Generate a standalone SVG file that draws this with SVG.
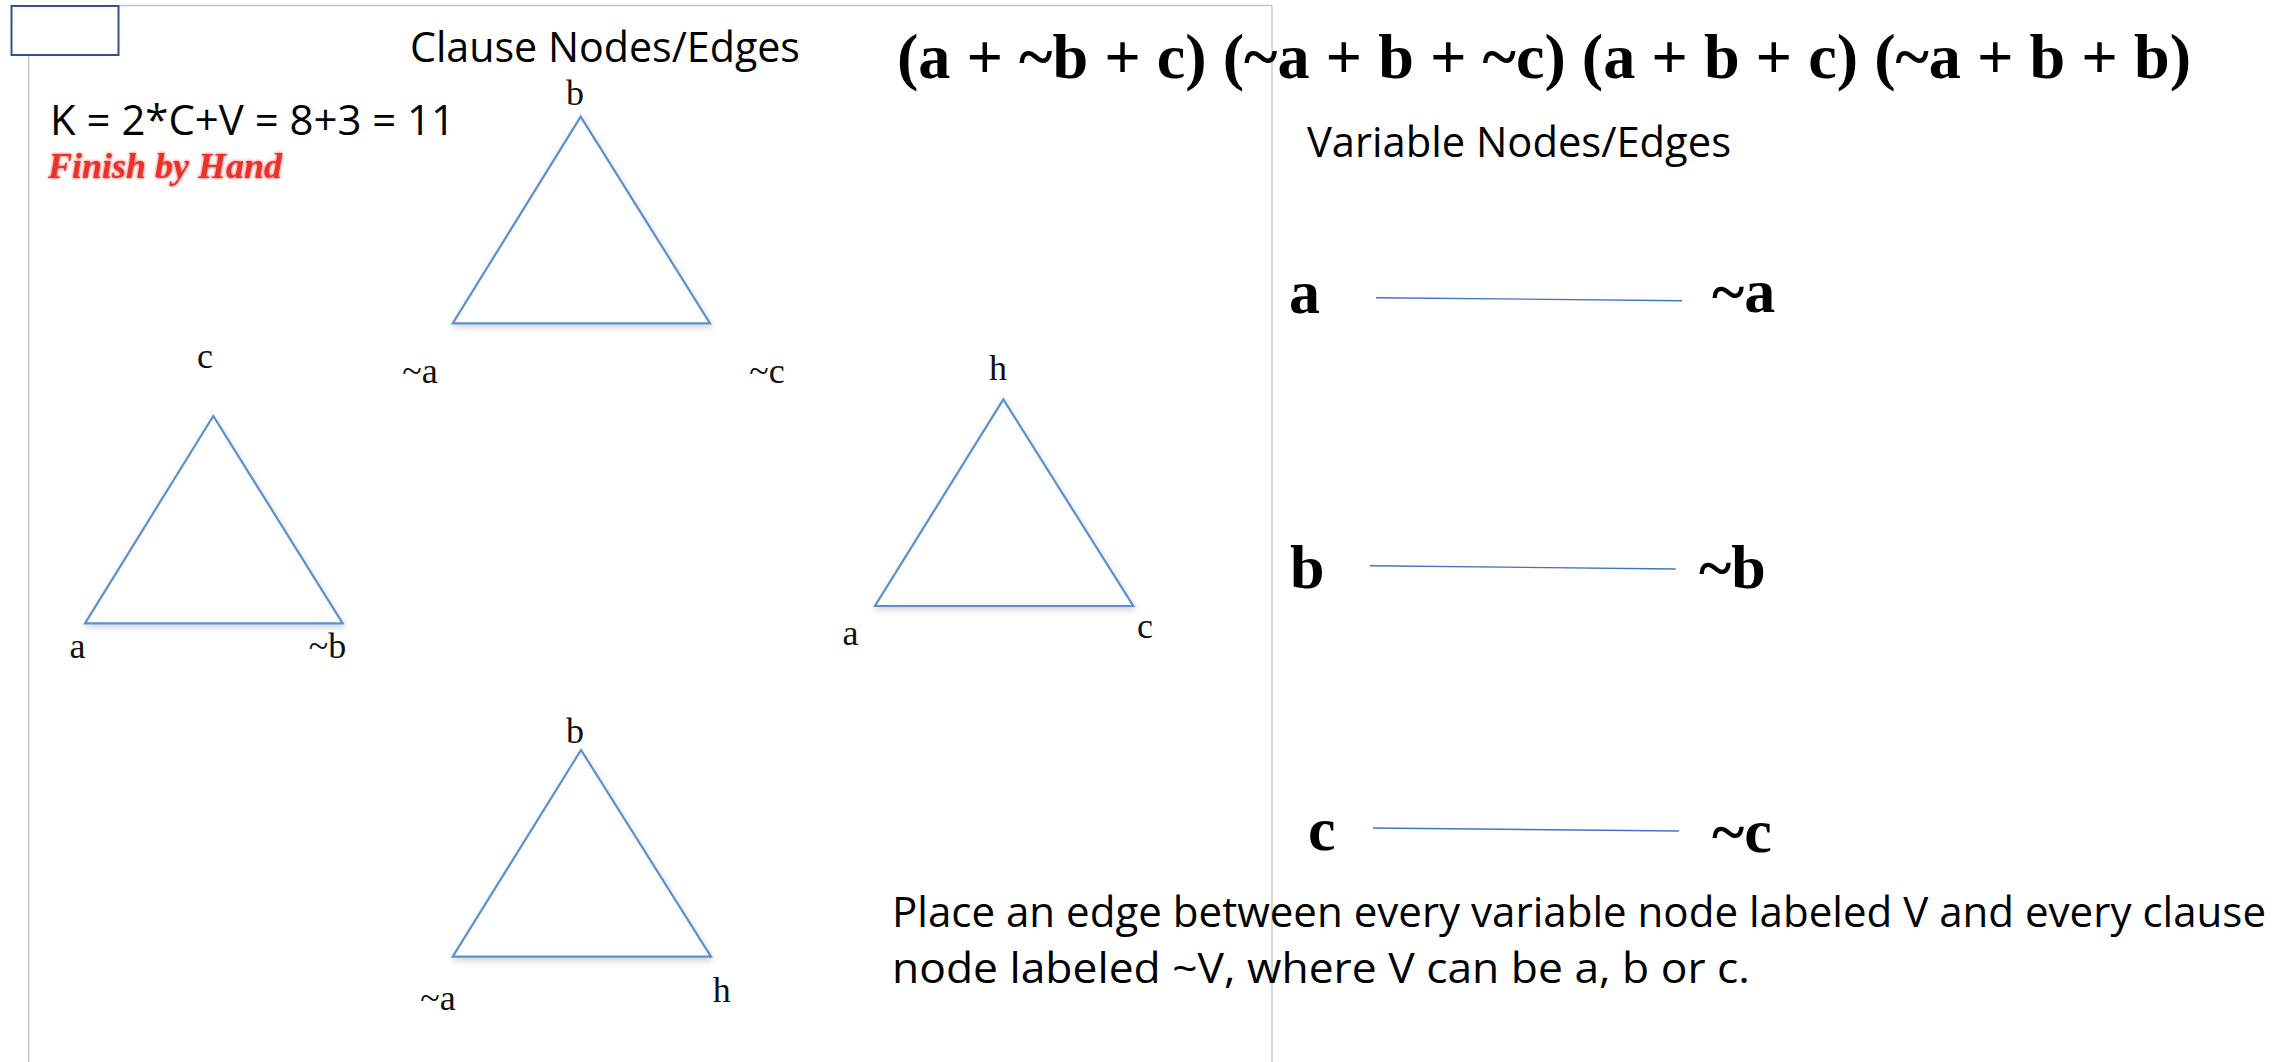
<svg xmlns="http://www.w3.org/2000/svg" width="2295" height="1062" viewBox="0 0 2295 1062">
  <defs>
    <filter id="shadow" x="-10%" y="-10%" width="120%" height="130%">
      <feDropShadow dx="1" dy="3" stdDeviation="3" flood-color="#000" flood-opacity="0.18"/>
    </filter>
    <filter id="glow" x="-5%" y="-30%" width="110%" height="160%">
      <feGaussianBlur in="SourceGraphic" stdDeviation="1.5" result="b"/>
      <feMerge><feMergeNode in="b"/><feMergeNode in="SourceGraphic"/></feMerge>
    </filter>
  </defs>
  <style>
    .frame { stroke: #c4c4c4; stroke-width: 1.3; fill: none; }
    .tri { fill: #ffffff; stroke: #5b8fd2; stroke-width: 2.2; stroke-linejoin: miter; }
    .tl { font-family: "Liberation Serif", "DejaVu Serif", serif; font-size: 36px; fill: #111111; text-anchor: middle; }
    .cal { font-family: "Open Sans", "Liberation Sans", sans-serif; font-size: 42px; fill: #000; }
    .big { font-family: "Liberation Serif", "Times New Roman", serif; font-weight: bold; font-size: 64px; fill: #000; }
    .var { font-family: "Liberation Serif", "Times New Roman", serif; font-weight: bold; font-size: 62px; fill: #000; }
    .edge { stroke: #4472c4; stroke-width: 1.4; fill: none; }
  </style>
  <rect width="2295" height="1062" fill="#ffffff"/>

  <g id="frame">
    <line class="frame" x1="119" y1="5.5" x2="1272" y2="5.5"/>
    <line class="frame" x1="28.7" y1="55" x2="28.7" y2="1062"/>
    <line class="frame" x1="1272" y1="5.5" x2="1272" y2="1062"/>
    <rect x="11.5" y="6" width="107" height="49" fill="#ffffff" stroke="#2f528f" stroke-width="2"/>
  </g>

  <g id="titles">
    <text class="cal" x="410" y="62" textLength="390" lengthAdjust="spacingAndGlyphs">Clause Nodes/Edges</text>
    <text class="cal" x="50" y="135" font-size="41" textLength="405" lengthAdjust="spacingAndGlyphs">K = 2*C+V = 8+3 = 11</text>
    <text x="48" y="178" font-family="Liberation Serif, Times New Roman, serif" font-weight="bold" font-style="italic" font-size="35" fill="#e8322b" filter="url(#glow)" textLength="234" lengthAdjust="spacingAndGlyphs">Finish by Hand</text>
    <text class="big" x="897" y="78" textLength="1294" lengthAdjust="spacingAndGlyphs">(a + ~b + c) (~a + b + ~c) (a + b + c) (~a + b + b)</text>
    <text class="cal" x="1307" y="157" textLength="424" lengthAdjust="spacingAndGlyphs">Variable Nodes/Edges</text>
    <text class="cal" x="892" y="927" textLength="1374" lengthAdjust="spacingAndGlyphs">Place an edge between every variable node labeled V and every clause</text>
    <text class="cal" x="892" y="983" textLength="858" lengthAdjust="spacingAndGlyphs">node labeled ~V, where V can be a, b or c.</text>
  </g>

  <g id="clause1">
    <polygon class="tri" filter="url(#shadow)" points="580.7,116.7 452.7,323.3 710,323.3"/>
    <text class="tl" x="575" y="105">b</text>
    <text class="tl" x="420" y="383">~a</text>
    <text class="tl" x="767" y="383">~c</text>
  </g>
  <g id="clause2">
    <polygon class="tri" filter="url(#shadow)" points="213.3,416 85,623.3 342.7,623.3"/>
    <text class="tl" x="205" y="368">c</text>
    <text class="tl" x="77.5" y="658">a</text>
    <text class="tl" x="327.5" y="658">~b</text>
  </g>
  <g id="clause3">
    <polygon class="tri" filter="url(#shadow)" points="1003.3,399.3 875,606 1133.3,606"/>
    <text class="tl" x="998" y="380">h</text>
    <text class="tl" x="850.5" y="645">a</text>
    <text class="tl" x="1145" y="638">c</text>
  </g>
  <g id="clause4">
    <polygon class="tri" filter="url(#shadow)" points="581,750 452.7,956.7 711,956.7"/>
    <text class="tl" x="575" y="743">b</text>
    <text class="tl" x="438" y="1010">~a</text>
    <text class="tl" x="721.7" y="1002">h</text>
  </g>

  <g id="var-a"><text class="var" x="1289" y="313">a</text></g>
  <g id="var-not-a"><text class="var" x="1712" y="312">~a</text></g>
  <g id="var-b"><text class="var" x="1290" y="588">b</text></g>
  <g id="var-not-b"><text class="var" x="1699" y="588">~b</text></g>
  <g id="var-c"><text class="var" x="1308" y="850">c</text></g>
  <g id="var-not-c"><text class="var" x="1712" y="852">~c</text></g>

  <g id="connectors">
    <line class="edge" x1="1376" y1="297.7" x2="1682" y2="300.7"/>
    <line class="edge" x1="1370" y1="565.7" x2="1675.7" y2="569"/>
    <line class="edge" x1="1373" y1="828" x2="1679" y2="831"/>
  </g>
</svg>
